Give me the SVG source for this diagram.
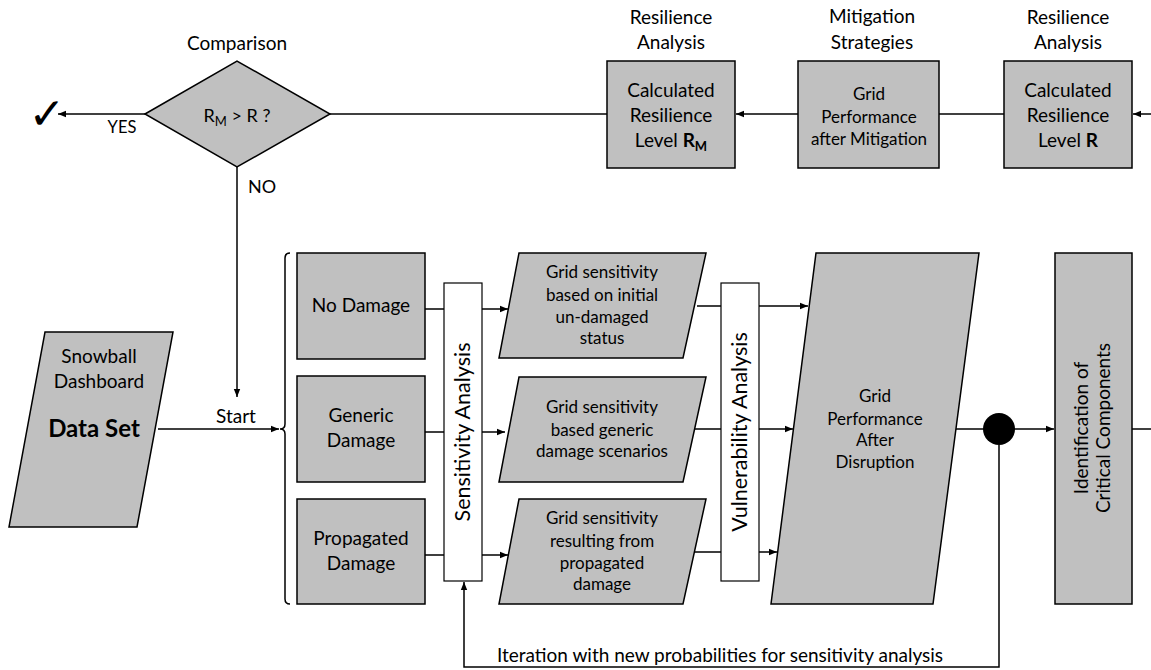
<svg xmlns="http://www.w3.org/2000/svg" width="1151" height="670" viewBox="0 0 1151 670">
<defs>
<marker id="arr" viewBox="0 0 10 10" refX="10" refY="5" markerWidth="8" markerHeight="8" markerUnits="userSpaceOnUse" orient="auto">
<path d="M0,1 L10,5 L0,9 Z" fill="#000"/>
</marker>
</defs>
<style>
.box{fill:#c0c0c0;stroke:#000;stroke-width:1.5}
.bar{fill:#fff;stroke:#000;stroke-width:1.2}
.ln{fill:none;stroke:#000;stroke-width:1.5}
.ar{fill:none;stroke:#000;stroke-width:1.5;marker-end:url(#arr)}
text{font-family:Lato,"Open Sans","Liberation Sans",sans-serif;fill:#000;text-anchor:middle}
.t17{font-size:17px}
.t18{font-size:18px}
.t19{font-size:19px}
.sub{font-size:13px}
</style>
<rect width="1151" height="670" fill="#fff"/>

<g id="connectors">
<path class="ar" d="M145,114 H58"/>
<path class="ar" d="M237,167 V397"/>
<path class="ln" d="M330,114 H607"/>
<path class="ar" d="M798,114 H736"/>
<path class="ln" d="M939,114 H1004"/>
<path class="ar" d="M1151,114 H1133"/>
<path class="ar" d="M158,429 H279"/>
<path class="ln" d="M425,309 H444 M425,432 H444 M425,555 H444"/>
<path class="ar" d="M482,309 H508"/>
<path class="ar" d="M482,432 H505"/>
<path class="ar" d="M482,555 H508"/>
<path class="ln" d="M697,306 H721 M686,429 H721 M673,552 H721"/>
<path class="ar" d="M759,306 H808"/>
<path class="ar" d="M759,429 H793"/>
<path class="ar" d="M759,552 H777"/>
<path class="ln" d="M956,429 H999"/>
<path class="ar" d="M999,429 H1054"/>
<path class="ln" d="M1132,429 H1151"/>
<path class="ar" d="M999,445 V667 H464 V582"/>
<path class="ln" d="M290,253 Q285,253 285,258 V424 Q285,429 280,429 Q285,429 285,434 V599 Q285,604 290,604" stroke-width="1.3"/>
<text x="122" y="133" style="font-size:16.5px">YES</text>
<text x="248" y="193" class="t18" style="text-anchor:start">NO</text>
<text x="236" y="423" class="t19">Start</text>
<text x="720" y="662" class="t19">Iteration with new probabilities for sensitivity analysis</text>
</g>

<g id="check">
<text x="47" y="129" style="font-family:'DejaVu Sans',sans-serif;font-size:44px;font-weight:bold;fill:#000">✓</text>
</g>

<g id="comparison">
<text x="237" y="50" class="t19">Comparison</text>
<polygon class="box" points="145,114 237,61 330,114 237,167"/>
<text x="237" y="122" class="t18">R<tspan class="sub" dy="4">M</tspan><tspan dy="-4"> &gt; R ?</tspan></text>
</g>

<g id="resilience-rm">
<text x="671" y="24" class="t19">Resilience</text>
<text x="671" y="49" class="t19">Analysis</text>
<rect class="box" x="607" y="61" width="128" height="107"/>
<text x="671" y="97" class="t19">Calculated</text>
<text x="671" y="122" class="t19">Resilience</text>
<text x="671" y="147" class="t19">Level <tspan font-weight="bold">R</tspan><tspan class="sub" font-weight="bold" dy="4">M</tspan></text>
</g>

<g id="mitigation">
<text x="872" y="23" class="t19">Mitigation</text>
<text x="872" y="49" class="t19">Strategies</text>
<rect class="box" x="798" y="61" width="141" height="107"/>
<text x="869" y="100" class="t17">Grid</text>
<text x="869" y="123" class="t17">Performance</text>
<text x="869" y="145" class="t17">after Mitigation</text>
</g>

<g id="resilience-r">
<text x="1068" y="24" class="t19">Resilience</text>
<text x="1068" y="49" class="t19">Analysis</text>
<rect class="box" x="1004" y="61" width="128" height="107"/>
<text x="1068" y="97" class="t19">Calculated</text>
<text x="1068" y="122" class="t19">Resilience</text>
<text x="1068" y="147" class="t19">Level <tspan font-weight="bold">R</tspan></text>
</g>

<g id="dataset">
<polygon class="box" points="45,332 173,332 137,527 9,527"/>
<text x="99" y="363" class="t19">Snowball</text>
<text x="99" y="388" class="t19">Dashboard</text>
<text x="94" y="437" style="font-size:24px;font-weight:bold">Data Set</text>
</g>

<g id="no-damage">
<rect class="box" x="297" y="253" width="128" height="106"/>
<text x="361" y="312" class="t19">No Damage</text>
</g>
<g id="generic-damage">
<rect class="box" x="297" y="376" width="128" height="106"/>
<text x="361" y="422" class="t19">Generic</text>
<text x="361" y="447" class="t19">Damage</text>
</g>
<g id="propagated-damage">
<rect class="box" x="297" y="499" width="128" height="105"/>
<text x="361" y="545" class="t19">Propagated</text>
<text x="361" y="570" class="t19">Damage</text>
</g>

<g id="sensitivity-analysis">
<rect class="bar" x="444" y="283" width="38" height="298"/>
<text transform="translate(470,432) rotate(-90)" style="font-size:21.5px">Sensitivity Analysis</text>
</g>

<g id="gs-undamaged">
<polygon class="box" points="519,253 706,253 683,358 499,358"/>
<text x="602" y="278" class="t17">Grid sensitivity</text>
<text x="602" y="301" class="t17">based on initial</text>
<text x="602" y="323" class="t17">un-damaged</text>
<text x="602" y="344" class="t17">status</text>
</g>
<g id="gs-generic">
<polygon class="box" points="519,377 706,377 683,482 499,482"/>
<text x="602" y="413" class="t17">Grid sensitivity</text>
<text x="602" y="436" class="t17">based generic</text>
<text x="602" y="457" class="t17">damage scenarios</text>
</g>
<g id="gs-propagated">
<polygon class="box" points="519,499 706,499 683,604 499,604"/>
<text x="602" y="524" class="t17">Grid sensitivity</text>
<text x="602" y="547" class="t17">resulting from</text>
<text x="602" y="569" class="t17">propagated</text>
<text x="602" y="590" class="t17">damage</text>
</g>

<g id="vulnerability-analysis">
<rect class="bar" x="721" y="283" width="38" height="298"/>
<text transform="translate(747,432) rotate(-90)" style="font-size:21.5px">Vulnerability Analysis</text>
</g>

<g id="grid-performance">
<polygon class="box" points="816,253 979,253 933,604 771,604"/>
<text x="875" y="402" class="t17">Grid</text>
<text x="875" y="425" class="t17">Performance</text>
<text x="875" y="446" class="t17">After</text>
<text x="875" y="468" class="t17">Disruption</text>
</g>

<g id="junction">
<circle cx="999" cy="429" r="16" fill="#000"/>
</g>

<g id="critical-components">
<rect class="box" x="1055" y="253" width="77" height="351"/>
<text transform="translate(1088,428) rotate(-90)" class="t19">Identification of</text>
<text transform="translate(1110,428) rotate(-90)" class="t19">Critical Components</text>
</g>
</svg>
